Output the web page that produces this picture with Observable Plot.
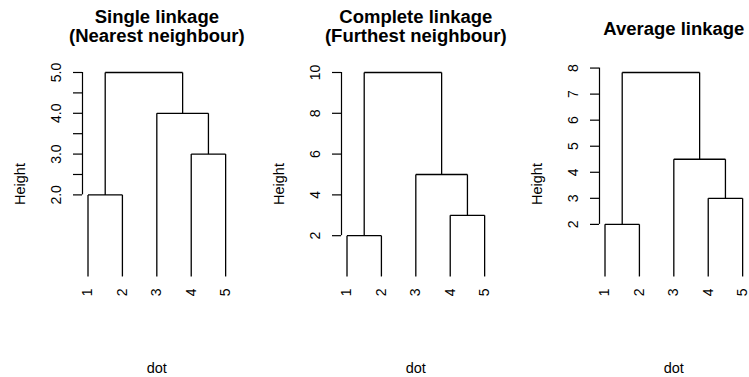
<!DOCTYPE html>
<html>
<head>
<meta charset="utf-8">
<script src="https://cdn.jsdelivr.net/npm/d3@7"></script>
<script src="https://cdn.jsdelivr.net/npm/@observablehq/plot@0.6"></script>
<style>
  html, body { margin: 0; padding: 0; background: #fff; }
  #wrap { position: relative; width: 749px; height: 377px; overflow: hidden; background: #fff; }
</style>
</head>
<body>
<div id="wrap"></div>
<script>
// ---- data ----
const leafLabels = ["1", "2", "3", "4", "5"];
// hclust-style merge matrix (negative = leaf, positive = earlier merge step)
const mergeA = [-1, -4, -3, 1];
const mergeB = [-2, -5, 2, 3];
const titles = ["Single linkage\n(Nearest neighbour)", "Complete linkage\n(Furthest neighbour)", "Average linkage"];
const heightsSingle = [2, 3, 4, 5];
const heightsComplete = [2, 3, 5, 10];
const heightsAverage = [2, 3, 4.5, 7.83];
const ticksSingle = [2, 2.5, 3, 3.5, 4, 4.5, 5];
const tickLabelsSingle = ["2.0", "", "3.0", "", "4.0", "", "5.0"];
const ticksComplete = [2, 4, 6, 8, 10];
const tickLabelsComplete = ["2", "4", "6", "8", "10"];
const ticksAverage = [2, 3, 4, 5, 6, 7, 8];
const tickLabelsAverage = ["2", "3", "4", "5", "6", "7", "8"];
const yLabel = "Height";
const xLabel = "dot";

const panels = [
  {title: titles[0], heights: heightsSingle, ticks: ticksSingle, tickLabels: tickLabelsSingle},
  {title: titles[1], heights: heightsComplete, ticks: ticksComplete, tickLabels: tickLabelsComplete},
  {title: titles[2], heights: heightsAverage, ticks: ticksAverage, tickLabels: tickLabelsAverage}
];

// R-style x limits: 1..n with 4% expansion
const n = leafLabels.length;
const xlim = [1 - 0.04 * (n - 1), n + 0.04 * (n - 1)];

function dendroSegments(heights) {
  const nodes = [];
  const get = (m) => m < 0 ? {x: -m, y: 0} : nodes[m - 1];
  const segs = [];
  for (let k = 0; k < heights.length; k++) {
    const a = get(mergeA[k]), b = get(mergeB[k]), h = heights[k];
    segs.push({x1: a.x, y1: a.y, x2: a.x, y2: h});
    segs.push({x1: b.x, y1: b.y, x2: b.x, y2: h});
    segs.push({x1: a.x, y1: h, x2: b.x, y2: h});
    nodes.push({x: (a.x + b.x) / 2, y: h});
  }
  return segs;
}

const W = 749 * 1.036 / 3; // original figure was wider; right side cropped
const H = 377;
const wrap = document.getElementById("wrap");
const font = "Liberation Sans, Arial, Helvetica, sans-serif";

panels.forEach((p, i) => {
  const top = d3.max(p.heights);
  const labelMap = new Map(p.ticks.map((t, j) => [t, p.tickLabels[j]]));
  const leaves = leafLabels.map((l, j) => ({x: j + 1, y: 0, label: l}));
  const nLines = p.title.split("\n").length;
  const titleBaseline = 35 + (nLines - 1) * 6.7;
  const chart = Plot.plot({
    width: W,
    height: H,
    marginLeft: 82,
    marginRight: 28,
    marginTop: 64,
    marginBottom: 74,
    style: {fontFamily: font, fontSize: "14px", background: "transparent", color: "#000"},
    x: {domain: xlim, axis: null},
    y: {domain: [0, top], range: [276, 72], axis: null},
    marks: [
      Plot.axisY(p.ticks, {
        anchor: "left", tickSize: 9, tickPadding: 12, tickRotate: -90,
        tickFormat: d => labelMap.get(d), label: null, fontSize: 14,
        stroke: "#000", strokeWidth: 1.2
      }),
      Plot.ruleX([{x: xlim[0], y1: d3.min(p.ticks), y2: d3.max(p.ticks)}], {x: "x", y1: "y1", y2: "y2", stroke: "#000", strokeWidth: 1.2}),
      Plot.link(dendroSegments(p.heights), {x1: "x1", y1: "y1", x2: "x2", y2: "y2", stroke: "#000", strokeWidth: 1.3}),
      Plot.text(leaves, {x: "x", y: "y", text: "label", rotate: -90, textAnchor: "end", lineAnchor: "middle", dy: 12, fontSize: 14, fill: "#000"}),
      Plot.text([p.title], {text: d => d, frameAnchor: "top", dy: titleBaseline - 64, lineAnchor: "bottom", lineHeight: 1.03, fontWeight: "bold", fontSize: 18.5, fill: "#000"}),
      Plot.text([yLabel], {text: d => d, frameAnchor: "left", dx: -57.5, rotate: -90, textAnchor: "middle", lineAnchor: "bottom", fontSize: 14.5, fill: "#000"}),
      Plot.text([xLabel], {text: d => d, frameAnchor: "bottom", dy: 69.5, lineAnchor: "bottom", fontSize: 14.5, fill: "#000"})
    ]
  });
  chart.style.left = (i * W) + "px";
  chart.style.position = "absolute";
  chart.style.top = "0px";
  wrap.appendChild(chart);
});
</script>
</body>
</html>
